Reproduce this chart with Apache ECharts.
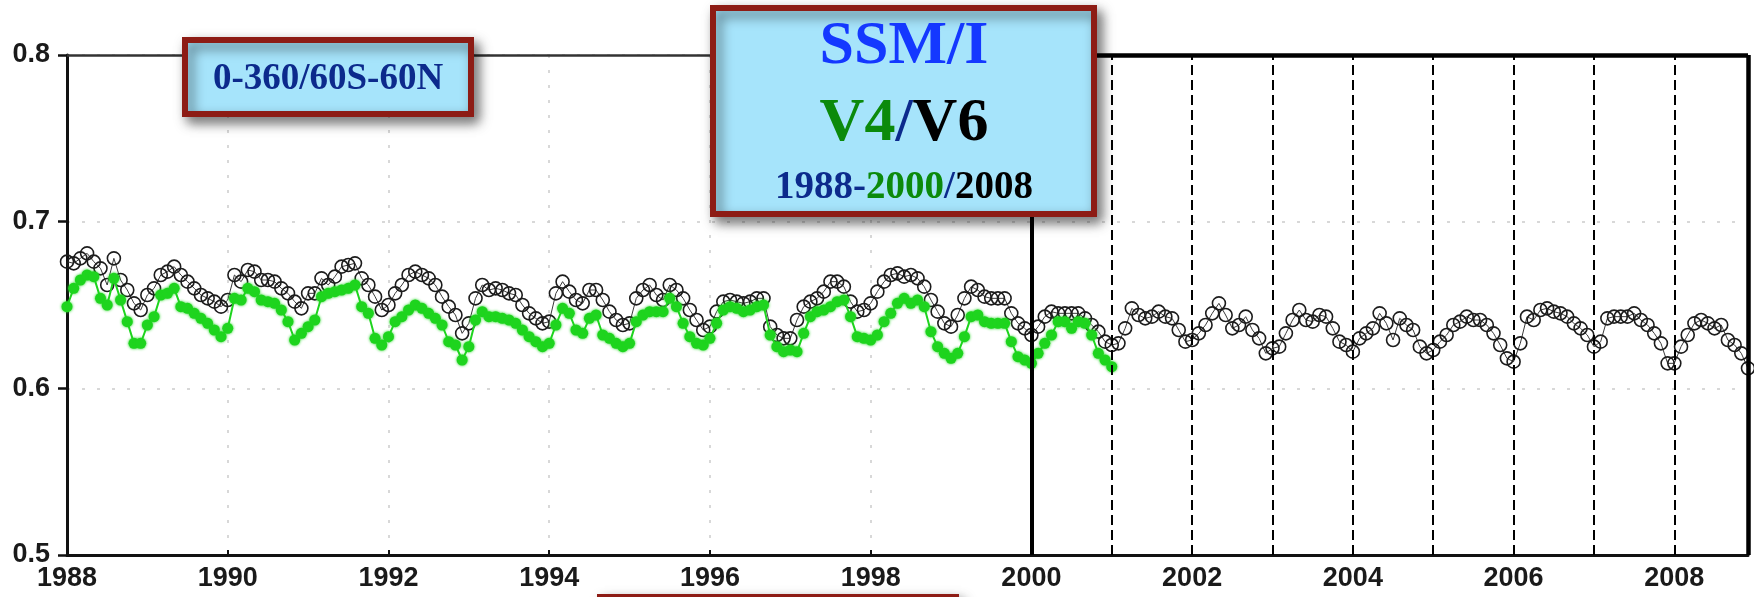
<!DOCTYPE html>
<html>
<head>
<meta charset="utf-8">
<title>SSM/I V4/V6 0-360/60S-60N</title>
<script src="https://cdn.jsdelivr.net/npm/echarts@6/dist/echarts.min.js"></script>
<style>
  html, body { margin: 0; padding: 0; background: #ffffff; }
  #chart { width: 1754px; height: 597px; }
</style>
</head>
<body>
<div id="chart"></div>
<script>
// Monthly series, first month = January 1988
const startYear = 1988;

// SSM/I V6, Jan 1988 - Dec 2008 (one row per year)
const v6Values = [
  0.676, 0.675, 0.678, 0.681, 0.676, 0.672, 0.662, 0.678, 0.665, 0.659, 0.651, 0.647,
  0.656, 0.660, 0.668, 0.670, 0.673, 0.668, 0.664, 0.660, 0.656, 0.654, 0.652, 0.649,
  0.653, 0.668, 0.664, 0.671, 0.670, 0.665, 0.665, 0.664, 0.660, 0.657, 0.652, 0.648,
  0.657, 0.657, 0.666, 0.662, 0.667, 0.673, 0.674, 0.675, 0.666, 0.662, 0.655, 0.647,
  0.650, 0.657, 0.662, 0.668, 0.670, 0.668, 0.666, 0.662, 0.655, 0.649, 0.644, 0.633,
  0.639, 0.654, 0.662, 0.659, 0.660, 0.659, 0.657, 0.656, 0.650, 0.645, 0.642, 0.639,
  0.640, 0.657, 0.664, 0.658, 0.653, 0.651, 0.659, 0.659, 0.653, 0.646, 0.641, 0.638,
  0.639, 0.654, 0.659, 0.662, 0.656, 0.653, 0.662, 0.659, 0.654, 0.647, 0.641, 0.635,
  0.637, 0.646, 0.652, 0.653, 0.652, 0.651, 0.652, 0.654, 0.654, 0.637, 0.632, 0.630,
  0.630, 0.641, 0.649, 0.652, 0.654, 0.658, 0.664, 0.664, 0.661, 0.652, 0.646, 0.647,
  0.651, 0.658, 0.664, 0.668, 0.669, 0.667, 0.668, 0.666, 0.661, 0.653, 0.646, 0.639,
  0.637, 0.644, 0.654, 0.661, 0.659, 0.655, 0.654, 0.654, 0.654, 0.645, 0.639, 0.636,
  0.632, 0.637, 0.643, 0.646, 0.645, 0.645, 0.645, 0.645, 0.642, 0.638, 0.634, 0.628,
  0.626, 0.627, 0.636, 0.648, 0.644, 0.642, 0.643, 0.646, 0.643, 0.642, 0.635, 0.628,
  0.629, 0.633, 0.638, 0.645, 0.651, 0.644, 0.636, 0.638, 0.643, 0.635, 0.630, 0.621,
  0.624, 0.625, 0.633, 0.641, 0.647, 0.641, 0.640, 0.644, 0.643, 0.636, 0.628, 0.626,
  0.622, 0.630, 0.633, 0.636, 0.645, 0.639, 0.629, 0.642, 0.638, 0.635, 0.625, 0.621,
  0.623, 0.628, 0.632, 0.638, 0.640, 0.643, 0.641, 0.641, 0.638, 0.633, 0.626, 0.618,
  0.616, 0.627, 0.643, 0.641, 0.647, 0.648, 0.646, 0.645, 0.643, 0.639, 0.636, 0.632,
  0.625, 0.628, 0.642, 0.643, 0.643, 0.643, 0.645, 0.641, 0.638, 0.633, 0.627, 0.615,
  0.615, 0.625, 0.632, 0.639, 0.641, 0.639, 0.636, 0.638, 0.629, 0.626, 0.621, 0.612
];

// SSM/I V4, Jan 1988 - Jan 2001
const v4Values = [
  0.649, 0.660, 0.665, 0.668, 0.667, 0.654, 0.650, 0.666, 0.653, 0.640, 0.627, 0.627,
  0.638, 0.643, 0.656, 0.657, 0.660, 0.649, 0.648, 0.645, 0.642, 0.639, 0.635, 0.631,
  0.636, 0.654, 0.653, 0.660, 0.658, 0.653, 0.652, 0.651, 0.647, 0.640, 0.629, 0.633,
  0.637, 0.641, 0.655, 0.657, 0.658, 0.659, 0.660, 0.662, 0.649, 0.645, 0.630, 0.626,
  0.631, 0.640, 0.643, 0.647, 0.650, 0.648, 0.645, 0.642, 0.638, 0.628, 0.626, 0.617,
  0.625, 0.641, 0.646, 0.643, 0.643, 0.642, 0.641, 0.639, 0.635, 0.631, 0.628, 0.625,
  0.627, 0.638, 0.648, 0.645, 0.635, 0.633, 0.642, 0.644, 0.632, 0.630, 0.627, 0.625,
  0.627, 0.640, 0.644, 0.646, 0.646, 0.646, 0.654, 0.649, 0.639, 0.631, 0.627, 0.626,
  0.630, 0.639, 0.647, 0.649, 0.648, 0.646, 0.647, 0.649, 0.650, 0.632, 0.625, 0.622,
  0.623, 0.622, 0.633, 0.643, 0.646, 0.647, 0.649, 0.652, 0.653, 0.643, 0.631, 0.630,
  0.629, 0.632, 0.640, 0.645, 0.651, 0.654, 0.651, 0.653, 0.649, 0.634, 0.625, 0.621,
  0.618, 0.621, 0.631, 0.643, 0.644, 0.640, 0.639, 0.639, 0.639, 0.628, 0.619, 0.617,
  0.615, 0.621, 0.627, 0.632, 0.640, 0.640, 0.636, 0.640, 0.639, 0.632, 0.621, 0.617,
  0.613
];

// Axis ranges and ticks
const yTicks = [0.5, 0.6, 0.7, 0.8];
const xLabelYears = [1988, 1990, 1992, 1994, 1996, 1998, 2000, 2002, 2004, 2006, 2008];
const splitYear = 2000;
const dashedYears = [2001, 2002, 2003, 2004, 2005, 2006, 2007, 2008];

const xMin = startYear;
const xMax = startYear + (v6Values.length - 1) / 12;
const yMin = yTicks[0];
const yMax = yTicks[yTicks.length - 1];

const toPoints = vals => vals.map((v, i) => [startYear + i / 12, v]);

const chart = echarts.init(document.getElementById('chart'), null, { renderer: 'canvas' });

const gridDots = { color: '#cbcbcb', width: 1.5, type: [3, 12] };
const labelFont = { fontFamily: 'Liberation Sans, Arial, sans-serif', fontSize: 27, fontWeight: 'bold', color: '#1a1a1a' };

const serif = 'Liberation Serif, "Times New Roman", serif';

function box(x, y, w, h) {
  return {
    type: 'rect',
    shape: { x: x, y: y, width: w, height: h },
    style: {
      fill: '#a6e4fb',
      stroke: '#8d1c15',
      lineWidth: 6,
      shadowBlur: 12,
      shadowOffsetX: 5,
      shadowOffsetY: 6,
      shadowColor: 'rgba(0,0,0,0.5)'
    },
    z: 100
  };
}

chart.setOption({
  animation: false,
  backgroundColor: '#ffffff',
  grid: { left: 67, right: 6, top: 55, bottom: 42, containLabel: false },
  xAxis: {
    type: 'value',
    min: xMin,
    max: xMax,
    interval: 2,
    axisLine: { show: true, onZero: false, lineStyle: { color: '#111', width: 3 } },
    axisTick: { show: true, inside: true, length: 5, lineStyle: { color: '#111', width: 2 } },
    axisLabel: Object.assign({
      margin: 10,
      showMaxLabel: false,
      formatter: v => (xLabelYears.indexOf(Math.round(v * 1000) / 1000) >= 0 ? String(Math.round(v)) : '')
    }, labelFont),
    splitLine: { show: true, lineStyle: gridDots }
  },
  yAxis: {
    type: 'value',
    min: yMin,
    max: yMax,
    interval: 0.1,
    axisLine: { show: true, onZero: false, lineStyle: { color: '#111', width: 3 } },
    axisTick: { show: true, length: 9, lineStyle: { color: '#111', width: 2.5 } },
    axisLabel: Object.assign({
      margin: 17,
      formatter: v => v.toFixed(1)
    }, labelFont),
    splitLine: { show: true, lineStyle: gridDots }
  },
  series: [
    {
      name: 'V6',
      type: 'line',
      data: toPoints(v6Values),
      showAllSymbol: true,
      symbol: 'circle',
      symbolSize: 13,
      itemStyle: { color: 'rgba(255,255,255,0)', borderColor: '#1c1c1c', borderWidth: 1.6 },
      lineStyle: { color: '#3a3a3a', width: 1 },
      z: 2
    },
    {
      name: 'V4',
      type: 'line',
      data: toPoints(v4Values),
      showAllSymbol: true,
      symbol: 'circle',
      symbolSize: 11,
      itemStyle: { color: '#1ed41e', shadowBlur: 3, shadowColor: '#1ed41e' },
      lineStyle: { color: '#1ed41e', width: 2 },
      z: 3
    },
    {
      name: 'frame',
      type: 'line',
      data: [],
      silent: true,
      z: 4,
      markLine: {
        silent: true,
        symbol: 'none',
        label: { show: false },
        animation: false,
        data: [
          [{ coord: [xMin, yMax], lineStyle: { color: '#333', width: 2.5, type: 'solid' } }, { coord: [xMax, yMax] }],
          [{ coord: [splitYear, yMax], lineStyle: { color: '#000', width: 4.5, type: 'solid' } }, { coord: [xMax, yMax] }],
          [{ coord: [xMax, yMin], lineStyle: { color: '#000', width: 4.5, type: 'solid' } }, { coord: [xMax, yMax] }],
          [{ coord: [splitYear, yMin], lineStyle: { color: '#000', width: 4, type: 'solid' } }, { coord: [splitYear, yMax] }]
        ].concat(dashedYears.map(yr => [
          { coord: [yr, yMin], lineStyle: { color: '#000', width: 2, type: [10, 5] } },
          { coord: [yr, yMax] }
        ]))
      }
    }
  ],
  graphic: [
    box(185, 40, 286, 74),
    {
      type: 'text',
      x: 328, y: 79, z: 101,
      style: {
        text: '0-360/60S-60N',
        font: 'bold 37px ' + serif,
        fill: '#0c2a8c',
        align: 'center',
        verticalAlign: 'middle'
      }
    },
    box(713, 8, 381, 206),
    {
      type: 'text',
      x: 904, y: 47, z: 101,
      style: {
        text: 'SSM/I',
        font: 'bold 62px ' + serif,
        fill: '#1438ff',
        align: 'center',
        verticalAlign: 'middle'
      }
    },
    {
      type: 'text',
      x: 904, y: 124, z: 101,
      style: {
        text: '{g|V4}{n|/}{k|V6}',
        align: 'center',
        verticalAlign: 'middle',
        rich: {
          g: { font: 'bold 62px ' + serif, fill: '#0b8a0b' },
          n: { font: 'bold 62px ' + serif, fill: '#0c2a8c' },
          k: { font: 'bold 62px ' + serif, fill: '#000000' }
        }
      }
    },
    {
      type: 'text',
      x: 904, y: 188, z: 101,
      style: {
        text: '{n|1988-}{g|2000}{n|/}{k|2008}',
        align: 'center',
        verticalAlign: 'middle',
        rich: {
          g: { font: 'bold 39px ' + serif, fill: '#0b8a0b' },
          n: { font: 'bold 39px ' + serif, fill: '#0c2a8c' },
          k: { font: 'bold 39px ' + serif, fill: '#000000' }
        }
      }
    },
    box(600, 597, 356, 40)
  ]
});
</script>
</body>
</html>
